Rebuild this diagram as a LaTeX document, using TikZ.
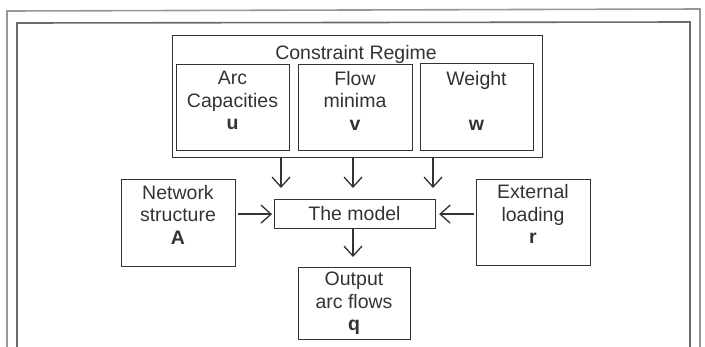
\documentclass[tikz,border=0pt]{standalone}
\usepackage{fontspec}
\setmainfont{Liberation Sans}
\usetikzlibrary{arrows.meta}

\definecolor{ink}{HTML}{333333}
\definecolor{rule}{HTML}{6A6A6A}

\tikzset{
  box/.style={draw=ink, line width=1.2pt, rectangle, inner sep=0pt, anchor=north west},
  txt/.style={text=ink, inner sep=0pt, align=center, font=\fontsize{19.5}{22.5}\selectfont},
  arr/.style={draw=ink, line width=1.3pt, -{Straight Barb[length=10pt,width=18pt,line width=1.3pt]}},
  frame/.style={draw=rule, line width=1.6pt},
}

\begin{document}
\begin{tikzpicture}[x=1pt,y=-1pt]
  \useasboundingbox (0,0) rectangle (705,346);

  % double page frame, open at the bottom
  \draw[frame, draw=rule!70] (7,350) -- (7,11) -- (700,9) -- (700,350);
  \draw[frame] (17,350) -- (17,23) -- (690,22) -- (690,350);

  % constraint regime with its three inner boxes
  \node[box, minimum width=370pt, minimum height=122pt] (cr) at (172,35) {};
  \node[txt, anchor=north] (crt) at (356,45) {Constraint Regime};

  \node[box, minimum width=113pt, minimum height=86pt] (arc) at (176,64) {};
  \node[txt, anchor=north] (arct) at (232.5,71) {Arc\\Capacities\\\textbf{u}};

  \node[box, minimum width=114pt, minimum height=86pt] (flow) at (298,64) {};
  \node[txt, anchor=north] (flowt) at (355,71) {Flow\\minima\\\textbf{v}};

  \node[box, minimum width=113pt, minimum height=87pt] (wt) at (420,63) {};
  \node[txt, anchor=north] (wtt) at (476.5,71) {Weight\\\mbox{}\\\textbf{w}};

  % model and its inputs / output
  \node[box, minimum width=161pt, minimum height=29pt] (model) at (274,199) {};
  \node[txt] (modelt) at (354.5,213.5) {The model};

  \node[box, minimum width=114pt, minimum height=87pt] (net) at (121,179) {};
  \node[txt, anchor=north] (nett) at (178,185) {Network\\structure\\\textbf{A}};

  \node[box, minimum width=114pt, minimum height=86pt] (ext) at (476,179) {};
  \node[txt, anchor=north] (extt) at (533,184.5) {External\\loading\\\textbf{r}};

  \node[box, minimum width=112pt, minimum height=72pt] (out) at (298,267) {};
  \node[txt, anchor=north] (outt) at (354,272) {Output\\arc flows\\\textbf{q}};

  % feeds from the constraint regime into the model
  \coordinate (f1) at (281,157);
  \coordinate (f2) at (353,157);
  \coordinate (f3) at (433,157);
  \draw[arr, shorten >=11pt] (f1) -- (f1 |- model.north);
  \draw[arr, shorten >=11pt] (f2) -- (f2 |- model.north);
  \draw[arr, shorten >=11pt] (f3) -- (f3 |- model.north);

  % side inputs and the output
  \draw[arr, shorten <=2pt, shorten >=2pt] (net.east |- model.west) -- (model.west);
  \draw[arr, shorten <=2pt, shorten >=3pt] (ext.west |- model.east) -- (model.east);
  \draw[arr, shorten >=10pt] (model.south -| f2) -- (out.north -| f2);
\end{tikzpicture}
\end{document}
